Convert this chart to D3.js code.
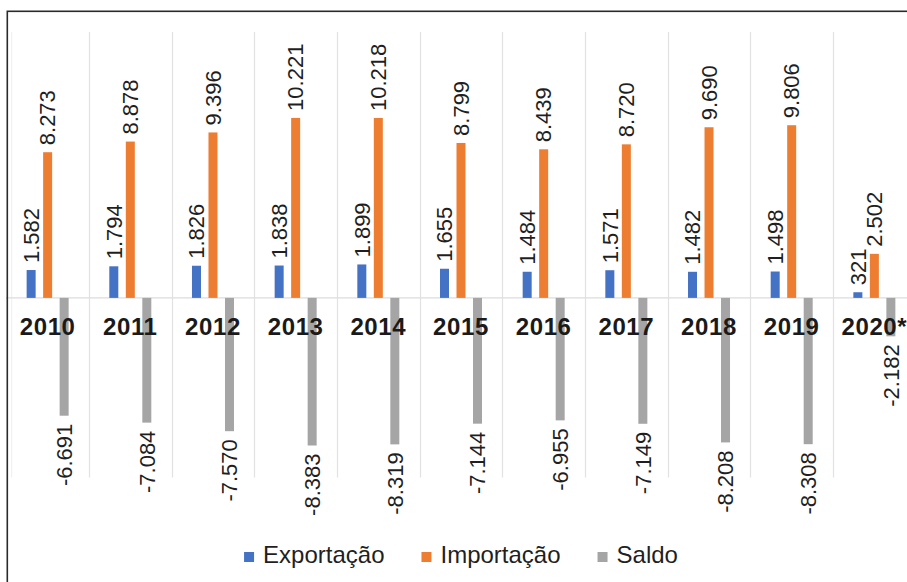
<!DOCTYPE html>
<html>
<head>
<meta charset="utf-8">
<script src="https://cdn.jsdelivr.net/npm/d3@7/dist/d3.min.js"></script>
<style>
  html, body { margin: 0; padding: 0; background: #fff; }
  svg { display: block; }
  text { font-family: "Liberation Sans", Arial, sans-serif; }
</style>
</head>
<body>
<svg id="chart" width="907" height="582"></svg>
<script>
const years = ["2010","2011","2012","2013","2014","2015","2016","2017","2018","2019","2020*"];
const exportacao = [1.582, 1.794, 1.826, 1.838, 1.899, 1.655, 1.484, 1.571, 1.482, 1.498, 0.321];
const importacao = [8.273, 8.878, 9.396, 10.221, 10.218, 8.799, 8.439, 8.720, 9.690, 9.806, 2.502];
const saldo = [-6.691, -7.084, -7.570, -8.383, -8.319, -7.144, -6.955, -7.149, -8.208, -8.308, -2.182];
const seriesNames = ["Exportação", "Importação", "Saldo"];
const seriesColors = ["#4472C4", "#ED7D31", "#A5A5A5"];
const seriesValues = [exportacao, importacao, saldo];

const fmt = v => {
  // Brazilian style: 1.582 (thousands), 321
  const n = Math.round(Math.abs(v) * 1000);
  const s = d3.format(",")(n).replace(/,/g, ".");
  return (v < 0 ? "-" : "") + s;
};

const svg = d3.select("#chart");

const x = d3.scaleBand().domain(years).range([6.3, 915.7]).padding(0);
const xs = d3.scaleBand().domain(seriesNames).range([0, x.bandwidth()])
  .paddingInner(0.4545).paddingOuter(1.232);
const y = d3.scaleLinear().domain([-10.2, 15.1]).range([477.5, 32]);

// gridlines (vertical, between categories)
const gridG = svg.append("g");
years.forEach((yr, i) => {
  const gx = Math.round(x(yr)) + 0.5;
  if (i > 0) {
    gridG.append("line")
      .attr("x1", gx).attr("x2", gx)
      .attr("y1", y.range()[1]).attr("y2", y.range()[0])
      .attr("stroke", "#e2e2e2").attr("stroke-width", 1.2);
  }
});
gridG.append("line")
  .attr("x1", 11.7).attr("x2", 11.7)
  .attr("y1", y.range()[1]).attr("y2", y.range()[0])
  .attr("stroke", "#eeeeee").attr("stroke-width", 1);

// zero baseline
svg.append("line")
  .attr("x1", 6).attr("x2", 907)
  .attr("y1", y(0)).attr("y2", y(0))
  .attr("stroke", "#dcdcdc").attr("stroke-width", 1.2);

// bars
const rows = [];
years.forEach((yr, i) => {
  seriesNames.forEach((s, j) => {
    rows.push({ yr, s, j, v: seriesValues[j][i] });
  });
});

svg.append("g").selectAll("rect").data(rows).join("rect")
  .attr("x", d => x(d.yr) + xs(d.s))
  .attr("width", xs.bandwidth())
  .attr("y", d => y(Math.max(0, d.v)))
  .attr("height", d => Math.abs(y(d.v) - y(0)))
  .attr("fill", d => seriesColors[d.j]);

// year labels (category axis at zero)
svg.append("g").selectAll("text").data(years).join("text")
  .attr("x", d => x(d) + x.bandwidth() / 2)
  .attr("y", y(0) + 37)
  .attr("text-anchor", "middle")
  .attr("font-size", 24)
  .attr("font-weight", "bold")
  .attr("letter-spacing", 0.6)
  .attr("fill", "#1a1a1a")
  .text(d => d);

// value labels (rotated)
svg.append("g").selectAll("text").data(rows).join("text")
  .attr("transform", d => {
    const cx = x(d.yr) + xs(d.s) + xs.bandwidth() / 2;
    const cy = d.v >= 0 ? y(d.v) - 7 : y(d.v) + 8;
    return `translate(${cx},${cy}) rotate(-90)`;
  })
  .attr("text-anchor", d => d.v >= 0 ? "start" : "end")
  .attr("dy", "0.35em")
  .attr("font-size", 22)
  .attr("fill", "#1f1f1f")
  .text(d => fmt(d.v));

// legend
const legend = svg.append("g");
const sq = 10, gapText = 9, gapItem = 37;
const items = seriesNames.map((s, i) => {
  const g = legend.append("g");
  g.append("rect").attr("width", sq).attr("height", sq).attr("y", -11).attr("fill", seriesColors[i]);
  const t = g.append("text").attr("x", sq + gapText).attr("y", 0)
    .attr("font-size", 24).attr("fill", "#1f1f1f").text(s);
  return { g, w: sq + gapText + t.node().getComputedTextLength() };
});
const total = d3.sum(items, d => d.w) + gapItem * (items.length - 1);
let lx = (x.range()[0] + x.range()[1]) / 2 - total / 2;
items.forEach(it => {
  it.g.attr("transform", `translate(${lx},563)`);
  lx += it.w + gapItem;
});

// outer frame (extends beyond the visible area)
svg.append("rect")
  .attr("x", 7.3).attr("y", 11.3)
  .attr("width", 1200).attr("height", 1200)
  .attr("fill", "none")
  .attr("stroke", "#2a2a2a").attr("stroke-width", 1.6);
</script>
</body>
</html>
